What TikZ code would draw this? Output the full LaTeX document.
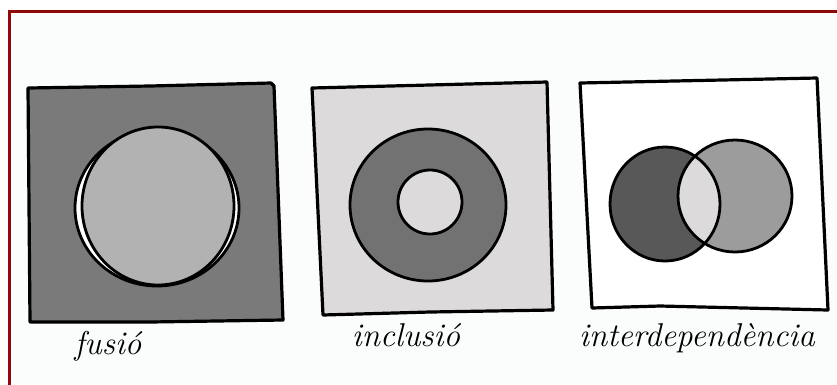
\documentclass[tikz,border=0pt]{standalone}
\usepackage{fontspec}
\definecolor{framec}{HTML}{8E0A0A}
\definecolor{bgc}{HTML}{FBFCFC}
\definecolor{gA}{HTML}{7A7A7A}
\definecolor{gB}{HTML}{B2B2B2}
\definecolor{gC}{HTML}{DDDADB}
\definecolor{gD}{HTML}{727272}
\definecolor{gE}{HTML}{585858}
\definecolor{gF}{HTML}{9C9C9C}
\begin{document}
\begin{tikzpicture}[x=1pt,y=-1pt,
  box/.style={draw=black,line width=3.2pt,line join=round},
  blob/.style={draw=black,line width=2.8pt},
  lab/.style={font=\fontsize{33}{38}\selectfont\itshape,anchor=base,inner sep=0pt}]
\useasboundingbox (0,0) rectangle (837,384);
\fill[white] (0,0) rectangle (837,384);
\fill[bgc] (9,11) rectangle (837,384);
\draw[framec,line width=3pt] (9,390) -- (9,11) -- (842,11);
% box 1: fusio
\draw[box,fill=gA] (28,88) -- (150,86) -- (271,83) -- (274,86) -- (283,320) -- (150,322) -- (30,322) -- cycle;
\draw[blob,fill=white] (157,208) ellipse [x radius=82, y radius=78];
\draw[blob,fill=gB] (158,206) ellipse [x radius=76, y radius=79];
% box 2: inclusio
\draw[box,fill=gC] (312,88) -- (547,82) -- (553,310) -- (430,312) -- (323,315) -- cycle;
\draw[blob,fill=gD,even odd rule] (428,205) ellipse [x radius=78, y radius=76]
  (430,202) circle [radius=32];
% box 3: interdependencia
\draw[box,fill=white] (580,83) -- (817,78) -- (828,310) -- (660,306) -- (592,308) -- cycle;
\fill[gE] (665,204) ellipse [x radius=55, y radius=57];
\fill[gF] (735,196) ellipse [x radius=57, y radius=56];
\begin{scope}
  \clip (665,204) ellipse [x radius=55, y radius=57];
  \fill[gC] (735,196) ellipse [x radius=57, y radius=56];
\end{scope}
\draw[blob] (665,204) ellipse [x radius=55, y radius=57];
\draw[blob] (735,196) ellipse [x radius=57, y radius=56];
% labels
\node[lab] (l1) at (108,354) {fusió};
\node[lab] (l2) at (406,346) {inclusió};
\node[lab] (l3) at (697,346) {interdependència};
\end{tikzpicture}
\end{document}
